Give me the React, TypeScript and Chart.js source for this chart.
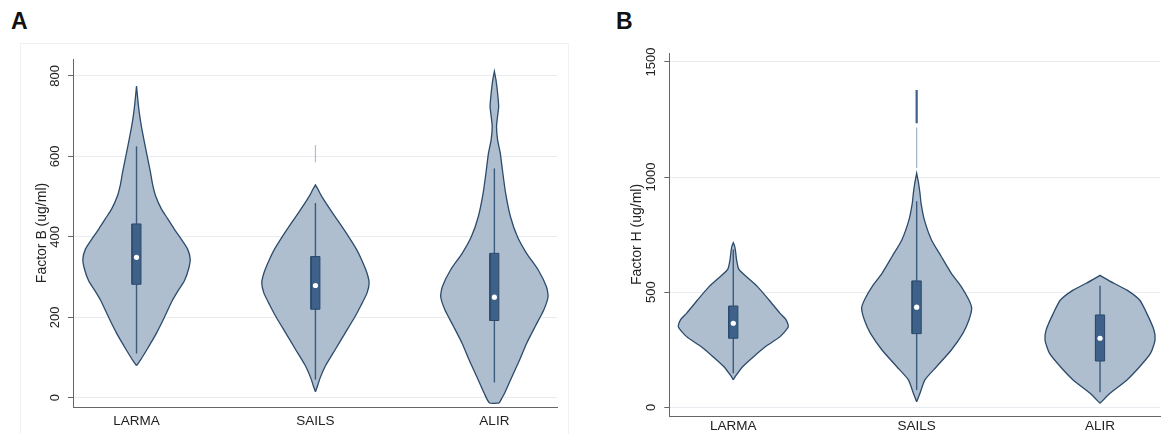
import React, { useEffect, useRef } from "react";
import { Chart, registerables } from "chart.js";

Chart.register(...registerables);

const FONT = "'Liberation Sans', Arial, Helvetica, sans-serif";
Chart.defaults.font.family = FONT;

const categories = ["LARMA", "SAILS", "ALIR"];

// ---------- Panel A: Factor B (ug/ml) ----------
const factorBTicks = [0, 200, 400, 600, 800];
// value levels and relative density (% of the widest point) along each violin
const fbLarmaLevels = [80, 95, 110, 130, 160, 200, 240, 265, 290, 320, 345, 370, 395, 420, 445, 470, 500, 530, 560, 600, 640, 675, 710, 740, 775];
const fbLarmaDensity = [0, 8, 15, 24, 37, 52, 66, 77, 89, 97, 100, 95, 83, 70, 58, 46, 36, 30, 26, 20, 14, 9, 5, 2.5, 0];
const fbSailsLevels = [15, 30, 50, 80, 120, 160, 200, 230, 260, 285, 310, 340, 370, 400, 434, 467, 500, 520, 529];
const fbSailsDensity = [0, 4, 9, 19, 37, 55, 73, 85, 96, 100, 96, 87, 76, 62, 45, 28, 12, 4, 0];
const fbAlirLevels = [-13, 11, 44, 94, 135, 177, 218, 251, 276, 317, 359, 400, 450, 508, 566, 608, 641, 674, 700, 724, 757, 790, 811];
const fbAlirDensity = [9, 19, 30, 47, 60, 76, 92, 100, 97, 82, 60, 43, 30, 21, 15, 11, 6, 4, 6, 8, 6, 3, 0];
// box plots: lower whisker, Q1, median, Q3, upper whisker
const fbLowerWhisker = [110, 45, 38];
const fbQ1 = [282, 220, 192];
const fbMedian = [349, 279, 250];
const fbQ3 = [432, 351, 359];
const fbUpperWhisker = [625, 484, 570];
// sparse upper tail of SAILS
const fbSailsTail = [585, 628];

// ---------- Panel B: Factor H (ug/ml) ----------
const factorHTicks = [0, 500, 1000, 1500];
const fhLarmaLevels = [119, 135, 176, 220, 263, 307, 350, 380, 408, 466, 524, 567, 600, 640, 680, 700, 715];
const fhLarmaDensity = [0, 4, 17, 37, 58, 85, 100, 96, 85, 65, 44, 24, 10, 6, 4, 2.5, 0];
const fhSailsLevels = [24, 61, 119, 176, 249, 321, 379, 430, 466, 524, 582, 654, 727, 814, 886, 930, 980, 1017];
const fhSailsDensity = [0, 6, 15, 36, 63, 84, 95, 100, 95, 81, 63, 45, 27, 14, 8, 6, 3, 0];
const fhAlirLevels = [17, 61, 119, 176, 235, 292, 336, 408, 466, 509, 539, 573];
const fhAlirDensity = [0, 18, 49, 72, 92, 100, 98, 85, 72, 49, 25, 0];
const fhLowerWhisker = [148, 75, 65];
const fhQ1 = [300, 320, 201];
const fhMedian = [365, 435, 300];
const fhQ3 = [440, 549, 401];
const fhUpperWhisker = [685, 895, 528];
const fhSailsTailFaint = [1040, 1215];
const fhSailsTailDark = [1234, 1378];

// ---------- styles ----------
const VIOLIN_FILL = "#aebece";
const VIOLIN_LINE = "#2c4a6c";
const BOX_FILL = "#3e6189";
const WHISKER = "#3a5a7e";
const GRID = "#e8ecf0";
const AXIS = "#666666";
const TEXT = "#222222";
const VIOLIN_HALF = 0.3;
const BOX_HALF = 0.025;

function violinDataset(center: number, levels: number[], density: number[]) {
  const right = levels.map((v, i) => ({ x: center + (density[i] / 100) * VIOLIN_HALF, y: v }));
  const left = levels.map((v, i) => ({ x: center - (density[i] / 100) * VIOLIN_HALF, y: v })).reverse();
  return {
    data: [...right, ...left, right[0]],
    fill: "shape",
    backgroundColor: VIOLIN_FILL,
    borderColor: VIOLIN_LINE,
    borderWidth: 1.3,
    pointRadius: 0,
    tension: 0.2,
    order: 5,
  };
}

function segmentDataset(center: number, range: number[], color: string, width: number, order: number) {
  return {
    data: [
      { x: center, y: range[0] },
      { x: center, y: range[1] },
    ],
    fill: false,
    borderColor: color,
    borderWidth: width,
    pointRadius: 0,
    tension: 0,
    order,
  };
}

function boxDataset(center: number, q1: number, q3: number) {
  return {
    data: [
      { x: center - BOX_HALF, y: q1 },
      { x: center + BOX_HALF, y: q1 },
      { x: center + BOX_HALF, y: q3 },
      { x: center - BOX_HALF, y: q3 },
      { x: center - BOX_HALF, y: q1 },
    ],
    fill: "shape",
    backgroundColor: BOX_FILL,
    borderColor: VIOLIN_LINE,
    borderWidth: 1,
    pointRadius: 0,
    tension: 0,
    order: 2,
  };
}

function buildDatasets(
  violins: [number[], number[]][],
  lo: number[],
  q1: number[],
  med: number[],
  q3: number[],
  hi: number[],
  tails: any[]
) {
  const ds: any[] = [];
  violins.forEach(([levels, dens], i) => ds.push(violinDataset(i + 1, levels, dens)));
  tails.forEach((t) => ds.push(t));
  categories.forEach((_, i) => ds.push(segmentDataset(i + 1, [lo[i], hi[i]], WHISKER, 1.4, 3)));
  categories.forEach((_, i) => ds.push(boxDataset(i + 1, q1[i], q3[i])));
  ds.push({
    data: categories.map((_, i) => ({ x: i + 1, y: med[i] })),
    showLine: false,
    pointRadius: 2.6,
    pointBackgroundColor: "#ffffff",
    pointBorderWidth: 0,
    order: 1,
  });
  return ds;
}

type PanelProps = {
  left: number;
  width: number;
  height: number;
  datasets: any[];
  yTicks: number[];
  yMin: number;
  yMax: number;
  xMin: number;
  xMax: number;
  yAxisWidth: number;
  xAxisHeight: number;
  padTop: number;
  padRight: number;
  yTickPadding: number;
  xTickPadding: number;
  titlePad: number;
  title: string;
};

function ViolinPanel(p: PanelProps) {
  const ref = useRef<HTMLCanvasElement | null>(null);
  useEffect(() => {
    if (!ref.current) return;
    const chart = new Chart(ref.current, {
      type: "line",
      data: { datasets: p.datasets },
      options: {
        animation: false,
        responsive: false,
        maintainAspectRatio: false,
        devicePixelRatio: 1,
        layout: { padding: { left: 0, top: p.padTop, right: p.padRight, bottom: 0 } },
        plugins: { legend: { display: false }, tooltip: { enabled: false } },
        scales: {
          x: {
            type: "linear",
            min: p.xMin,
            max: p.xMax,
            afterBuildTicks: (s: any) => {
              s.ticks = categories.map((_, i) => ({ value: i + 1 }));
            },
            afterFit: (s: any) => {
              s.height = p.xAxisHeight;
            },
            grid: { display: false, drawTicks: false },
            border: { display: true, color: AXIS, width: 1 },
            ticks: {
              autoSkip: false,
              maxRotation: 0,
              padding: p.xTickPadding,
              color: TEXT,
              font: { size: 13.5 },
              callback: (v: any) => categories[Math.round(Number(v)) - 1] ?? "",
            },
          },
          y: {
            type: "linear",
            min: p.yMin,
            max: p.yMax,
            afterBuildTicks: (s: any) => {
              s.ticks = p.yTicks.map((v) => ({ value: v }));
            },
            afterFit: (s: any) => {
              s.width = p.yAxisWidth;
            },
            grid: { color: GRID, lineWidth: 1, drawTicks: true, tickLength: 5, tickColor: AXIS },
            border: { display: true, color: AXIS, width: 1 },
            ticks: {
              minRotation: 90,
              maxRotation: 90,
              crossAlign: "center",
              padding: p.yTickPadding,
              color: TEXT,
              font: { size: 13 },
              callback: (v: any) => String(v),
            },
            title: {
              display: true,
              text: p.title,
              color: TEXT,
              font: { size: 14 },
              padding: { top: p.titlePad, bottom: 0 },
            },
          },
        },
      } as any,
    });
    return () => chart.destroy();
  }, []);
  return (
    <canvas
      ref={ref}
      width={p.width}
      height={p.height}
      style={{ position: "absolute", left: p.left, top: 0, width: p.width, height: p.height }}
    />
  );
}

export default function App() {
  const dsA = buildDatasets(
    [
      [fbLarmaLevels, fbLarmaDensity],
      [fbSailsLevels, fbSailsDensity],
      [fbAlirLevels, fbAlirDensity],
    ],
    fbLowerWhisker,
    fbQ1,
    fbMedian,
    fbQ3,
    fbUpperWhisker,
    [segmentDataset(2, fbSailsTail, "rgba(110,140,175,0.55)", 1.2, 4)]
  );
  const dsB = buildDatasets(
    [
      [fhLarmaLevels, fhLarmaDensity],
      [fhSailsLevels, fhSailsDensity],
      [fhAlirLevels, fhAlirDensity],
    ],
    fhLowerWhisker,
    fhQ1,
    fhMedian,
    fhQ3,
    fhUpperWhisker,
    [
      segmentDataset(2, fhSailsTailFaint, "rgba(95,125,160,0.6)", 1.2, 4),
      segmentDataset(2, fhSailsTailDark, BOX_FILL, 2.2, 4),
    ]
  );
  return (
    <div
      style={{
        position: "fixed",
        left: 0,
        top: 0,
        width: 1164,
        height: 434,
        overflow: "hidden",
        background: "#ffffff",
        fontFamily: FONT,
      }}
    >
      <div
        style={{
          position: "absolute",
          left: 20,
          top: 43,
          width: 547,
          height: 420,
          border: "1px solid #f1f1f1",
        }}
      />
      <div style={{ position: "absolute", left: 11, top: 10, font: `bold 23px/23px ${FONT}`, color: "#111" }}>A</div>
      <div style={{ position: "absolute", left: 616, top: 10, font: `bold 23px/23px ${FONT}`, color: "#111" }}>B</div>
      <ViolinPanel
        left={0}
        width={582}
        height={434}
        datasets={dsA}
        yTicks={factorBTicks}
        yMin={-23}
        yMax={842}
        xMin={0.645}
        xMax={3.35}
        yAxisWidth={73}
        xAxisHeight={27}
        padTop={59}
        padRight={25}
        yTickPadding={2}
        xTickPadding={6}
        titlePad={34}
        title="Factor B (ug/ml)"
      />
      <ViolinPanel
        left={582}
        width={582}
        height={434}
        datasets={dsB}
        yTicks={factorHTicks}
        yMin={-37.8}
        yMax={1539}
        xMin={0.651}
        xMax={3.327}
        yAxisWidth={87.3}
        xAxisHeight={18}
        padTop={53}
        padRight={0}
        yTickPadding={-2}
        xTickPadding={2.4}
        titlePad={47}
        title="Factor H (ug/ml)"
      />
    </div>
  );
}
